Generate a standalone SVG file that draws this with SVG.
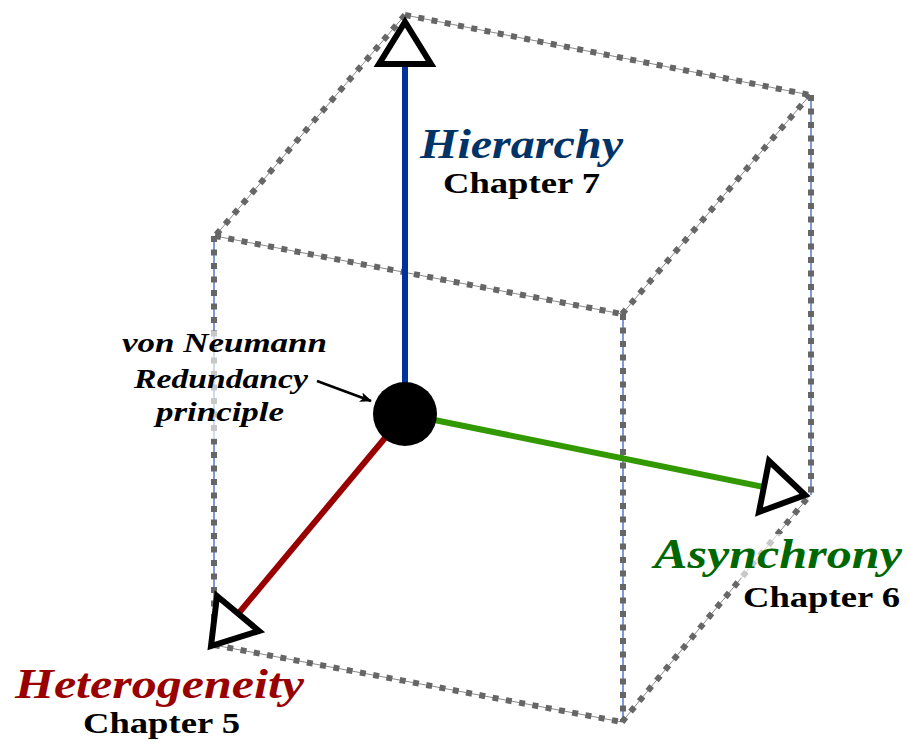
<svg xmlns="http://www.w3.org/2000/svg" width="910" height="742" viewBox="0 0 910 742">
<defs>
<style>
.thin{stroke:#8a8a8a;stroke-width:1;fill:none}
.thinv{stroke:#5577cc;stroke-width:1.5;fill:none}
.dots{stroke:#666666;stroke-width:6;stroke-dasharray:6 7.5;fill:none}
.tri{fill:#ffffff;stroke:#000000;stroke-width:6;stroke-linejoin:miter;stroke-miterlimit:10}
.axis{stroke-width:6;fill:none}
.halo{fill:#ffffff;fill-opacity:0.64}
.title{font-family:"Liberation Serif",serif;font-style:italic;font-weight:bold;font-size:43px}
.chap{font-family:"Liberation Serif",serif;font-weight:bold;font-size:30px;fill:#000}
.note{font-family:"Liberation Serif",serif;font-style:italic;font-weight:bold;font-size:28px;fill:#000}
</style>
<marker id="ah" viewBox="0 0 12 10" refX="11" refY="5" markerWidth="12" markerHeight="10" markerUnits="userSpaceOnUse" orient="auto">
<path d="M0,0 L12,5 L0,10 L3,5 Z" fill="#000"/>
</marker>
</defs>
<rect width="910" height="742" fill="#ffffff"/>
<g id="connectors">
<g id="cube">
<path class="thin" d="M405,15 L810,95 M405,15 L215,236 M215,236 L622,314 M622,314 L810,95 M214,645 L622,722 M622,722 L810,495"/>
<path class="thinv" d="M214,236 L214,645 M623,314 L623,722 M811,95 L811,495"/>
<path class="dots" d="M405,15 L810,95"/>
<path class="dots" d="M405,15 L215,236"/>
<path class="dots" d="M215,236 L622,314"/>
<path class="dots" d="M622,314 L810,95"/>
<path class="dots" d="M214,236 L214,645"/>
<path class="dots" d="M623,314 L623,722"/>
<path class="dots" d="M811,95 L811,495"/>
<path class="dots" d="M214,645 L622,722"/>
<path class="dots" d="M622,722 L810,495"/>
</g>
<line id="axis-hierarchy" class="axis" x1="405" y1="414" x2="405" y2="64" stroke="#003399"/>
<line id="axis-asynchrony" class="axis" x1="405" y1="414" x2="764" y2="487" stroke="#339900"/>
<line id="axis-heterogeneity" class="axis" x1="405" y1="414" x2="238" y2="614" stroke="#990000"/>
<polygon class="tri" points="405,22 379,64 431,64"/>
<polygon class="tri" points="805,495 769,461 759,512"/>
<polygon class="tri" points="211,646 217,596 259,631"/>
</g>
<g id="halos">
<rect class="halo" x="116" y="331" width="196" height="108"/>
<rect class="halo" x="650" y="534" width="256" height="44"/>
</g>
<g id="note-connector">
<line id="note-arrow" x1="317" y1="381" x2="371" y2="401" stroke="#000" stroke-width="2.5" marker-end="url(#ah)"/>
</g>
<g id="origin">
<circle cx="405" cy="414" r="32" fill="#000"/>
</g>
<g id="label-hierarchy">
<text class="title" x="420" y="158" fill="#003366" textLength="203" lengthAdjust="spacingAndGlyphs">Hierarchy</text>
<text class="chap" x="443" y="193" textLength="157" lengthAdjust="spacingAndGlyphs">Chapter 7</text>
</g>
<g id="label-asynchrony">
<text class="title" x="654" y="568" fill="#006600" textLength="248" lengthAdjust="spacingAndGlyphs">Asynchrony</text>
<text class="chap" x="743" y="607" textLength="157" lengthAdjust="spacingAndGlyphs">Chapter 6</text>
</g>
<g id="label-heterogeneity">
<text class="title" x="15" y="698" fill="#990000" textLength="289" lengthAdjust="spacingAndGlyphs">Heterogeneity</text>
<text class="chap" x="83" y="733" textLength="157" lengthAdjust="spacingAndGlyphs">Chapter 5</text>
</g>
<g id="label-von-neumann">
<text class="note" x="122" y="352" textLength="205" lengthAdjust="spacingAndGlyphs">von Neumann</text>
<text class="note" x="134" y="388" textLength="174" lengthAdjust="spacingAndGlyphs">Redundancy</text>
<text class="note" x="156" y="421" textLength="128" lengthAdjust="spacingAndGlyphs">principle</text>
</g>
</svg>
